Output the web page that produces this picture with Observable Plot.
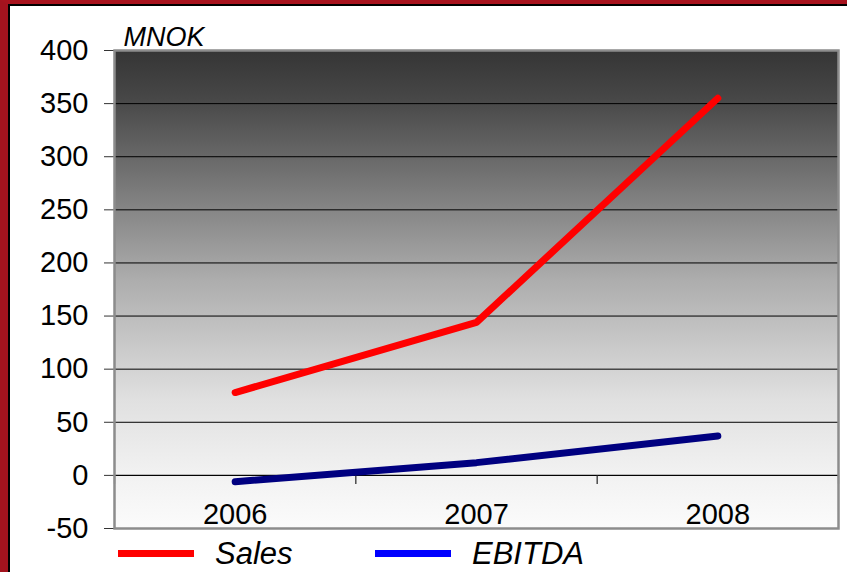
<!DOCTYPE html>
<html>
<head>
<meta charset="utf-8">
<script src="https://cdn.jsdelivr.net/npm/d3@7"></script>
<script src="https://cdn.jsdelivr.net/npm/@observablehq/plot@0.6"></script>
<style>
  html, body { margin: 0; padding: 0; background: #fff; overflow: hidden; }
  #page { position: relative; width: 847px; height: 572px; box-sizing: border-box;
          border-left: 8px solid #a3131e; border-top: 4px solid #a8131e; }
  #inner { position: absolute; left: 0; top: 0; right: 0; bottom: 0;
           border-left: 2px solid #000; border-top: 2px solid #000; }
  #chart svg { display: block; }
  #legend { position: relative; height: 36px; font-family: "Liberation Sans", Arial, sans-serif; }
  .sw { position: absolute; height: 7px; width: 76px; top: 14px; }
  .lb { position: absolute; top: 5px; font-size: 31px; line-height: 26px; font-style: italic; color: #000; white-space: nowrap; }
</style>
</head>
<body>
<div id="page"><div id="inner">
  <div id="chart"></div>
  <div id="legend">
    <div class="sw" style="left:108px;background:#ff0000"></div>
    <div class="lb" style="left:205px">Sales</div>
    <div class="sw" style="left:365px;background:#0000ff"></div>
    <div class="lb" style="left:462px">EBITDA</div>
  </div>
</div></div>
<script>
const years = [2006, 2007, 2008];
const sales = [78, 144, 355];
const ebitda = [-6, 12, 37];
const yTicks = [-50, 0, 50, 100, 150, 200, 250, 300, 350, 400];
const seriesNames = ["Sales", "EBITDA"];
const unitLabel = "MNOK";

const catBounds = years.map(y => y - 0.5).concat([years[years.length - 1] + 0.5]);
const salesData = years.map((y, i) => ({year: y, value: sales[i]}));
const ebitdaData = years.map((y, i) => ({year: y, value: ebitda[i]}));

const font = "'Liberation Sans', Arial, Helvetica, sans-serif";

const svg = Plot.plot({
  width: 837,
  height: 530,
  marginLeft: 104,
  marginTop: 44,
  marginRight: 9,
  marginBottom: 8,
  style: {fontFamily: font, fontSize: "29px", background: "transparent", color: "#000", overflow: "visible"},
  x: {type: "linear", domain: [catBounds[0], catBounds[catBounds.length - 1]], axis: null},
  y: {domain: [yTicks[0], yTicks[yTicks.length - 1]], axis: null},
  marks: [
    Plot.frame({fill: "url(#bggrad)", stroke: "none"}),
    Plot.gridY(yTicks, {stroke: "#000", strokeOpacity: 1, strokeWidth: 1}),
    Plot.ruleY([0], {stroke: "#000", strokeWidth: 1}),
    Plot.ruleX(catBounds, {y1: 0, y2: 0, insetBottom: -9, stroke: "#222", strokeWidth: 1.2}),
    Plot.axisY(yTicks, {tickSize: 10, tickPadding: 16, fontSize: 29, stroke: "#333", fill: "#000", label: null, tickFormat: d => String(d)}),
    Plot.text(years, {x: d => d, y: yTicks[0], dy: -5, lineAnchor: "bottom", text: d => String(d), fontSize: 29, fill: "#000"}),
    Plot.line(salesData, {x: "year", y: "value", stroke: "#ff0000", strokeWidth: 7, strokeLinecap: "round", strokeLinejoin: "miter"}),
    Plot.line(ebitdaData, {x: "year", y: "value", stroke: "#000080", strokeWidth: 7, strokeLinecap: "round", strokeLinejoin: "miter"}),
    Plot.frame({stroke: "#8c8c8c", strokeWidth: 2.5}),
    Plot.text([unitLabel], {frameAnchor: "top-left", dx: 9, dy: -5, lineAnchor: "bottom", textAnchor: "start", fontSize: 27, fontStyle: "italic", fill: "#000"})
  ]
});

const defs = d3.select(svg).insert("defs", ":first-child");
const grad = defs.append("linearGradient").attr("id", "bggrad").attr("x1", 0).attr("y1", 0).attr("x2", 0).attr("y2", 1);
[[0, "#353535"], [0.1, "#474747"], [0.3, "#7d7d7d"], [0.48, "#adadad"], [0.73, "#e0e0e0"], [0.89, "#f2f2f2"], [1, "#fbfbfb"]]
  .forEach(([o, c]) => grad.append("stop").attr("offset", o).attr("stop-color", c));

document.getElementById("chart").appendChild(svg);
</script>
</body>
</html>
